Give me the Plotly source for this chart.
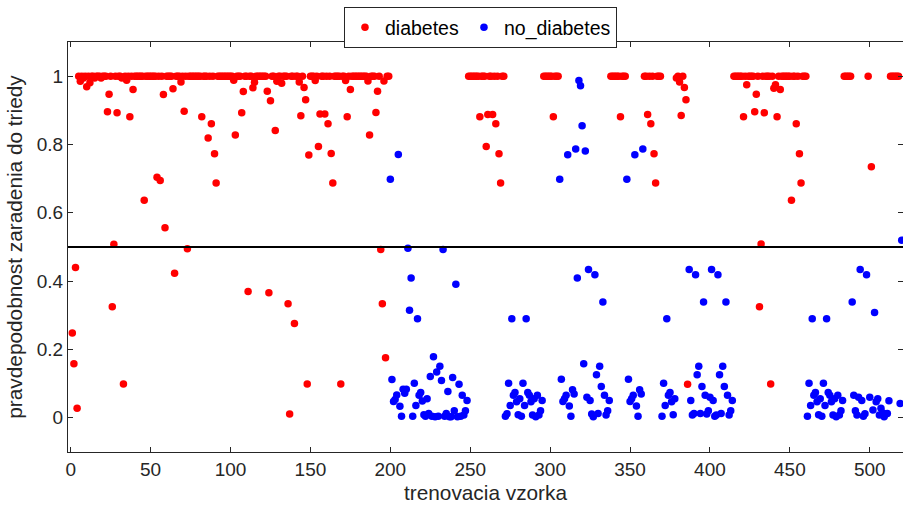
import plotly.graph_objects as go

# ---------------- data ----------------
red_x = [
    1, 2, 3, 4, 5, 6, 7, 8, 9, 10, 11, 12, 13, 14, 15, 16, 17, 18, 19, 20,
    21, 22, 23, 24, 25, 26, 27, 28, 29, 30, 31, 32, 33, 34, 35, 36, 37, 38, 39, 40,
    41, 42, 43, 44, 45, 46, 47, 48, 49, 50, 51, 52, 53, 54, 55, 56, 57, 58, 59, 60,
    61, 62, 63, 64, 65, 66, 67, 68, 69, 70, 71, 72, 73, 74, 75, 76, 77, 78, 79, 80,
    81, 82, 83, 84, 85, 86, 87, 88, 89, 90, 91, 92, 93, 94, 95, 96, 97, 98, 99, 100,
    101, 102, 103, 104, 105, 106, 107, 108, 109, 110, 111, 112, 113, 114, 115, 116, 117, 118, 119, 120,
    121, 122, 123, 124, 125, 126, 127, 128, 129, 130, 131, 132, 133, 134, 135, 136, 137, 138, 139, 140,
    141, 142, 143, 144, 145, 146, 147, 148, 149, 150, 151, 152, 153, 154, 155, 156, 157, 158, 159, 160,
    161, 162, 163, 164, 165, 166, 167, 168, 169, 170, 171, 172, 173, 174, 175, 176, 177, 178, 179, 180,
    181, 182, 183, 184, 185, 186, 187, 188, 189, 190, 191, 192, 193, 194, 195, 196, 197, 198, 199,
    249, 250, 251, 252, 253, 254, 255, 256, 257, 258, 259, 260, 261, 262, 263, 264, 265, 266, 267, 268,
    269, 270, 271,
    296, 297, 298, 299, 300, 301, 302, 303, 304, 305,
    338, 339, 340, 341, 342, 343, 344, 345, 346, 347,
    359, 360, 361, 362, 363, 364, 365, 366, 367, 368, 369,
    379, 380, 381, 382, 383, 384, 385, 386,
    415, 416, 417, 418, 419, 420, 421, 422, 423, 424, 425, 426, 427, 428, 429, 430, 431, 432, 433, 434,
    435, 436, 437, 438, 439, 440, 441, 442, 443, 444, 445, 446, 447, 448, 449, 450, 451, 452, 453, 454,
    455, 456, 457, 458, 459, 460,
    484, 485, 486, 487, 488,
    499, 501,
    513, 514, 515, 516, 517, 518,
]
red_y = [
    0.248, 0.158, 0.440, 0.028, 1.0, 0.985, 1.0, 0.995, 1.0, 0.969, 1.0, 0.981, 1.0, 1.0, 0.995, 1.0, 1.0, 1.0, 0.995, 1.0,
    1.0, 1.0, 0.896, 0.947, 1.0, 0.325, 0.508, 1.0, 0.893, 1.0, 1.0, 0.995, 0.099, 1.0, 0.988, 1.0, 0.881, 1.0, 0.961, 1.0,
    1.0, 1.0, 1.0, 1.0, 1.0, 0.637, 1.0, 1.0, 1.0, 1.0, 1.0, 1.0, 1.0, 0.704, 1.0, 0.695, 1.0, 0.946, 0.556, 1.0,
    1.0, 1.0, 1.0, 0.963, 0.423, 1.0, 1.0, 1.0, 0.983, 1.0, 0.897, 1.0, 0.495, 1.0, 1.0, 1.0, 1.0, 1.0, 1.0, 1.0,
    1.0, 0.881, 1.0, 1.0, 1.0, 0.819, 1.0, 0.861, 1.0, 0.773, 0.687, 1.0, 1.0, 1.0, 1.0, 1.0, 1.0, 1.0, 1.0, 1.0,
    1.0, 0.988, 0.828, 1.0, 1.0, 1.0, 0.893, 0.955, 1.0, 1.0, 0.370, 1.0, 1.0, 0.966, 0.982, 1.0, 1.0, 1.0, 1.0, 1.0,
    1.0, 1.0, 0.956, 0.366, 0.928, 1.0, 1.0, 0.841, 0.985, 1.0, 1.0, 0.979, 1.0, 1.0, 1.0, 0.334, 0.011, 1.0, 1.0, 0.276,
    1.0, 1.0, 0.983, 0.884, 1.0, 0.967, 0.931, 0.099, 0.769, 1.0, 1.0, 1.0, 0.987, 1.0, 0.794, 0.889, 1.0, 1.0, 0.889, 1.0,
    0.861, 1.0, 0.774, 0.687, 1.0, 1.0, 1.0, 1.0, 0.099, 1.0, 1.0, 0.987, 0.881, 1.0, 0.961, 1.0, 1.0, 1.0, 1.0, 1.0,
    1.0, 1.0, 1.0, 1.0, 1.0, 0.986, 0.828, 1.0, 1.0, 1.0, 0.894, 0.956, 1.0, 0.493, 0.334, 0.986, 0.176, 1.0, 1.0,
    1.0, 1.0, 1.0, 1.0, 1.0, 1.0, 1.0, 0.881, 1.0, 1.0, 1.0, 0.794, 0.888, 1.0, 1.0, 0.888, 1.0, 0.861, 1.0, 0.773,
    0.687, 1.0, 1.0,
    1.0, 1.0, 1.0, 1.0, 1.0, 1.0, 0.881, 1.0, 1.0, 1.0,
    1.0, 1.0, 1.0, 1.0, 1.0, 1.0, 0.881, 1.0, 1.0, 1.0,
    1.0, 1.0, 0.888, 1.0, 0.861, 1.0, 0.773, 0.687, 1.0, 1.0, 1.0,
    0.995, 1.0, 0.983, 0.885, 1.0, 0.967, 0.931, 0.098,
    1.0, 1.0, 1.0, 1.0, 1.0, 1.0, 0.881, 1.0, 0.975, 1.0, 1.0, 1.0, 1.0, 0.896, 0.947, 1.0, 0.325, 0.509, 1.0, 0.893,
    1.0, 1.0, 1.0, 0.099, 1.0, 0.965, 0.975, 0.881, 1.0, 0.961, 1.0, 1.0, 1.0, 1.0, 1.0, 1.0, 0.637, 1.0, 1.0, 0.861,
    1.0, 0.773, 0.687, 1.0, 1.0, 1.0,
    1.0, 1.0, 1.0, 1.0, 1.0,
    1.0, 0.735,
    1.0, 1.0, 1.0, 1.0, 1.0, 1.0,
]

blue_x = [
    200, 201, 202, 203, 204, 205, 206, 207, 208, 209, 210, 211, 212, 213, 214, 215, 216, 217, 218, 219,
    220, 221, 222, 223, 224, 225, 226, 227, 228, 229, 230, 231, 232, 233, 234, 235, 236, 237, 238, 239,
    240, 241, 242, 243, 244, 245, 246, 247, 248,
    272, 273, 274, 275, 276, 277, 278, 279, 280, 281, 282, 283, 284, 285, 286, 287, 288, 289, 290, 291,
    292, 293, 294, 295,
    306, 307, 308, 309, 310, 311, 312, 313, 314, 315, 316, 317, 318, 319, 320, 321, 322, 323, 324, 325,
    326, 327, 328, 329, 330, 331, 332, 333, 334, 335, 336, 337,
    348, 349, 350, 351, 352, 353, 354, 355, 356, 357, 358,
    370, 371, 372, 373, 374, 375, 376, 377, 378,
    387, 388, 389, 390, 391, 392, 393, 394, 395, 396, 397, 398, 399, 400, 401, 402, 403, 404, 405, 406,
    407, 408, 409, 410, 411, 412, 413, 414,
    461, 462, 463, 464, 465, 466, 467, 468, 469, 470, 471, 472, 473, 474, 475, 476, 477, 478, 479, 480,
    481, 482, 483,
    489, 490, 491, 492, 493, 494, 495, 496, 497, 498,
    500,
    502, 503, 504, 505, 506, 507, 508, 509, 510, 511, 512,
    519, 520,
]
blue_y = [
    0.698, 0.112, 0.048, 0.054, 0.067, 0.771, 0.034, 0.005, 0.084, 0.072, 0.084, 0.496, 0.315, 0.409, 0.005, 0.101, 0.036, 0.290, 0.066, 0.074,
    0.049, 0.009, 0.005, 0.056, 0.013, 0.121, 0.005, 0.179, 0.003, 0.134, 0.005, 0.151, 0.109, 0.493, 0.005, 0.013, 0.077, 0.003, 0.003, 0.118,
    0.021, 0.391, 0.003, 0.098, 0.005, 0.066, 0.008, 0.021, 0.051,
    0.005, 0.012, 0.101, 0.036, 0.290, 0.066, 0.074, 0.047, 0.009, 0.056, 0.005, 0.101, 0.036, 0.290, 0.074, 0.066, 0.047, 0.008, 0.056, 0.003,
    0.066, 0.008, 0.021, 0.051,
    0.698, 0.113, 0.048, 0.056, 0.066, 0.770, 0.035, 0.005, 0.082, 0.070, 0.787, 0.409, 0.987, 0.972, 0.855, 0.158, 0.781, 0.060, 0.434, 0.051,
    0.011, 0.003, 0.419, 0.126, 0.013, 0.151, 0.092, 0.339, 0.066, 0.008, 0.021, 0.051,
    0.698, 0.113, 0.048, 0.056, 0.066, 0.770, 0.035, 0.005, 0.082, 0.070, 0.787,
    0.005, 0.101, 0.036, 0.290, 0.066, 0.074, 0.047, 0.009, 0.056,
    0.434, 0.051, 0.008, 0.013, 0.419, 0.126, 0.151, 0.013, 0.092, 0.339, 0.066, 0.011, 0.021, 0.060, 0.434, 0.051, 0.005, 0.008, 0.419, 0.126,
    0.013, 0.151, 0.092, 0.339, 0.066, 0.008, 0.021, 0.051,
    0.005, 0.101, 0.036, 0.290, 0.066, 0.074, 0.047, 0.009, 0.056, 0.005, 0.101, 0.036, 0.290, 0.074, 0.066, 0.047, 0.008, 0.056, 0.003, 0.066,
    0.008, 0.021, 0.051,
    0.339, 0.066, 0.021, 0.008, 0.060, 0.434, 0.051, 0.005, 0.012, 0.419,
    0.060,
    0.023, 0.308, 0.047, 0.056, 0.008, 0.028, 0.015, 0.003, 0.011, 0.013, 0.050,
    0.042, 0.520,
]

threshold = 0.5
x_ticks = [0, 50, 100, 150, 200, 250, 300, 350, 400, 450, 500]
y_ticks = [0, 0.2, 0.4, 0.6, 0.8, 1]
y_tick_text = ["0", "0.2", "0.4", "0.6", "0.8", "1"]

# ---------------- figure ----------------
AX = "#262626"
fig = go.Figure()
fig.add_trace(go.Scatter(x=red_x, y=red_y, mode="markers", name="diabetes",
                         marker=dict(color="#ff0000", size=7.5, line=dict(width=0))))
fig.add_trace(go.Scatter(x=blue_x, y=blue_y, mode="markers", name="no_diabetes",
                         marker=dict(color="#0000ff", size=7.5, line=dict(width=0))))

fig.add_shape(type="line", xref="paper", x0=0, x1=1, yref="y", y0=threshold, y1=threshold,
              line=dict(color="black", width=2))

axis_common = dict(showgrid=False, zeroline=False, showline=True, linecolor=AX, linewidth=1,
                   mirror="ticks", ticks="inside", ticklen=5, tickcolor=AX, tickwidth=1,
                   tickfont=dict(size=19, color=AX))

fig.update_xaxes(range=[-1.7, 520.8], tickvals=x_ticks,
                 title=dict(text="trenovacia vzorka", font=dict(size=20.8, color=AX), standoff=6),
                 **axis_common)
fig.update_yaxes(range=[-0.1, 1.1], tickvals=y_ticks, ticktext=y_tick_text,
                 title=dict(text="pravdepodobnost zaradenia do triedy", font=dict(size=20.8, color=AX), standoff=8),
                 **axis_common)

fig.update_layout(
    width=903, height=509,
    margin=dict(l=68, r=0, t=42, b=57, autoexpand=False),
    plot_bgcolor="white", paper_bgcolor="white",
    font=dict(family="Liberation Sans, Arial, sans-serif", color=AX),
    showlegend=True,
    legend=dict(orientation="h", x=0.494, xanchor="center", y=1.085, yanchor="top",
                bordercolor=AX, borderwidth=1, bgcolor="white",
                font=dict(size=19.5, color="#000000"), itemwidth=30),
)

fig.write_html("out.html", config={"displayModeBar": False},
               post_script="document.body.style.margin='0';document.body.style.overflow='hidden';")
